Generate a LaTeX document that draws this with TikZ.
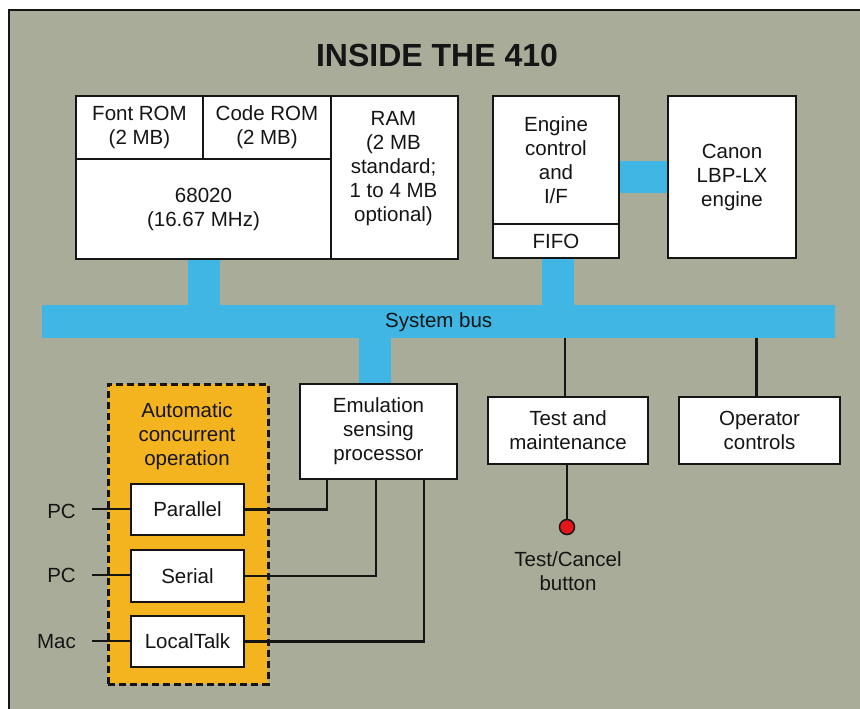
\documentclass[tikz,border=0pt]{standalone}
\usepackage{fontspec}
\setmainfont{Liberation Sans}
\definecolor{bg}{HTML}{A9AC98}
\definecolor{busblue}{HTML}{3FB6E4}
\definecolor{autoyel}{HTML}{F4B41F}
\definecolor{btnred}{HTML}{E8141C}
\definecolor{ink}{HTML}{151515}
\begin{document}
\begin{tikzpicture}[x=1pt,y=-1pt,
  box/.style={draw=ink, line width=2pt, fill=white, anchor=north west, inner sep=0pt, align=center, text=ink, font=\fontsize{20.5}{24}\selectfont},
  txt/.style={inner sep=0pt, align=center, text=ink, font=\fontsize{20.5}{24}\selectfont},
  busbar/.style={fill=busblue, anchor=north west, inner sep=0pt, text=ink, font=\fontsize{20.5}{24}\selectfont},
  stub/.style={busblue, line width=32pt},
  wire/.style={ink, line width=2.5pt},
  autobox/.style={draw=ink, line width=2.5pt, dash pattern=on 7pt off 4pt, fill=autoyel, anchor=north west, inner sep=0pt}
]
\useasboundingbox (0,0) rectangle (860,709);
% background frame
\fill[white] (0,0) rectangle (860,709);
\fill[bg] (9,10) rectangle (860,709);
\draw[ink, line width=2pt] (9,709) -- (9,10) -- (860,10);

% title
\node[inner sep=0pt, text=ink, font=\fontsize{32}{36}\bfseries\selectfont] (title) at (437,55) {INSIDE THE 410};

% bus
\node[busbar, minimum width=793pt, minimum height=33pt] (bus) at (42,305) {System bus};

% top boxes
\node[box, minimum width=127pt, minimum height=63pt] (fontrom) at (75,95) {Font ROM\\(2 MB)};
\node[box, minimum width=128pt, minimum height=63pt] (coderom) at (202,95) {Code ROM\\(2 MB)};
\node[box, minimum width=255pt, minimum height=100pt] (cpu) at (75,158) {68020\\(16.67 MHz)};
\node[box, minimum width=127pt, minimum height=163pt] (ram) at (330,95) {};
\node[txt] (ramtext) at (393.5,169) {RAM\\(2 MB\\standard;\\1 to 4 MB\\optional)};
\node[box, minimum width=126pt, minimum height=128pt] (engine) at (492,95) {Engine\\control\\and\\I/F};
\node[box, minimum width=126pt, minimum height=34pt] (fifo) at (492,223) {FIFO};
\node[box, minimum width=128pt, minimum height=162pt] (canon) at (667,95) {Canon\\LBP-LX\\engine};

% blue stubs
\draw[stub] (canon.west) -- (canon.west -| engine.east);
\draw[stub] (cpu.south) -- (cpu.south |- bus.north);
\draw[stub] ([xshift=1.5pt]fifo.south) -- ([xshift=1.5pt]fifo.south |- bus.north);

% lower boxes
\node[box, minimum width=157pt, minimum height=95pt] (emu) at (299,383) {Emulation\\sensing\\processor};
\draw[stub] ([xshift=-3.5pt]emu.north) -- ([xshift=-3.5pt]emu.north |- bus.south);
\node[box, minimum width=160pt, minimum height=67pt] (test) at (487,396) {Test and\\maintenance};
\node[box, minimum width=161pt, minimum height=67pt] (oper) at (678,396) {Operator\\controls};
\draw[wire] ([xshift=-3pt]test.north) -- ([xshift=-3pt]test.north |- bus.south);
\draw[wire] ([xshift=-3pt]oper.north) -- ([xshift=-3pt]oper.north |- bus.south);

% automatic concurrent operation
\node[autobox, minimum width=160pt, minimum height=300pt] (auto) at (107,383) {};
\node[txt] (autotext) at (187,436) {Automatic\\concurrent\\operation};
\node[box, minimum width=113pt, minimum height=51pt] (par) at (130,483) {Parallel};
\node[box, minimum width=113pt, minimum height=52pt] (ser) at (130,549) {Serial};
\node[box, minimum width=113pt, minimum height=51pt] (lt) at (130,615) {LocalTalk};

% host labels
\node[txt, anchor=east] (pc1) at (76,511) {PC};
\node[txt, anchor=east] (pc2) at (76,575) {PC};
\node[txt, anchor=east] (mac) at (76,642) {Mac};
\coordinate (pc1e) at (92,509);
\coordinate (pc2e) at (92,575);
\coordinate (mace) at (92,641);
\draw[wire] (pc1e) -- (pc1e -| par.west);
\draw[wire] (pc2e) -- (pc2e -| ser.west);
\draw[wire] (mace) -- (mace -| lt.west);

% to emulation processor
\draw[wire] (par.east) -| ([xshift=-51.5pt]emu.south);
\draw[wire] (ser.east) -| ([xshift=-2.5pt]emu.south);
\draw[wire] (lt.east) -| ([xshift=45.5pt]emu.south);

% test/cancel button
\node[circle, draw=ink, line width=1.5pt, fill=btnred, minimum size=15pt, inner sep=0pt] (btn) at (567,527) {};
\draw[wire] (btn.north |- test.south) -- (btn.north);
\node[txt] (btnlabel) at (568,571) {Test/Cancel\\button};
\end{tikzpicture}
\end{document}
